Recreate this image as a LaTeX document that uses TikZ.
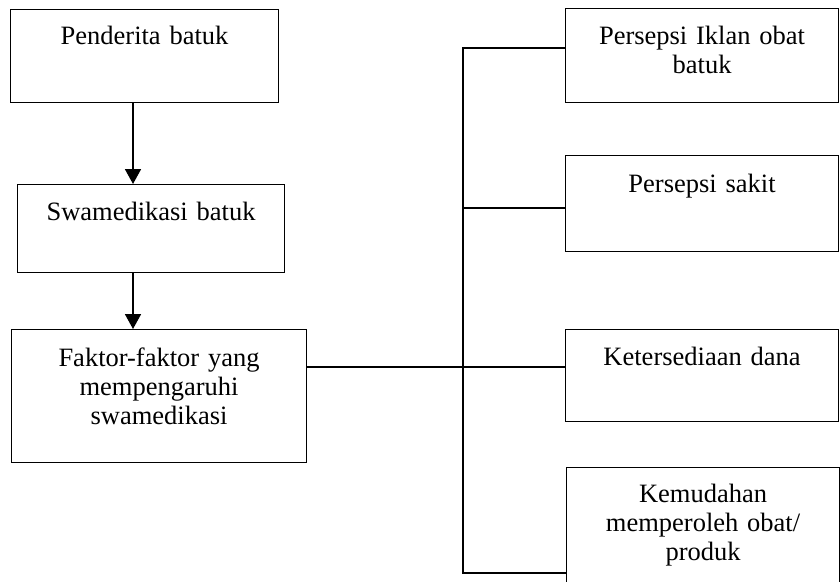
\documentclass[tikz,border=0pt]{standalone}
\usepackage{fontspec}
\setmainfont{Liberation Serif}
\usepackage{tikz}
\usetikzlibrary{positioning,arrows.meta}
\tikzstyle{box} = [rectangle, anchor=north west, inner sep=0pt, align=center, draw=black, line width=1.1pt, font=\fontsize{26.5}{29}\selectfont]
\tikzstyle{line} = [line width=1.4pt]
\tikzstyle{arrow} = [line width=1.8pt,-{Triangle[width=16pt,length=15pt]}]

\begin{document}
\begin{tikzpicture}[x=1pt,y=-1pt]
\useasboundingbox (0,0) rectangle (840,581);
% left column
\node (pend) [box, text width=268pt, text height=35pt, text depth=58pt] at (10,9) {Penderita batuk};
\node (swam) [box, text width=267pt, text height=36pt, text depth=52pt] at (17,184) {Swamedikasi batuk};
\node (fakt) [box, text width=295pt, text height=37pt, text depth=96pt] at (11,329) {Faktor-faktor yang\\mempengaruhi\\swamedikasi};
% right column
\node (iklan) [box, text width=273pt, text height=36pt, text depth=58pt] at (565,8) {Persepsi Iklan obat\\batuk};
\node (sakit) [box, text width=273pt, text height=37pt, text depth=59pt] at (565,155) {Persepsi sakit};
\node (dana) [box, text width=273pt, text height=36pt, text depth=56pt] at (565,329) {Ketersediaan dana};
\node (mudah) [box, text width=273pt, text height=35pt, text depth=95pt] at (566,467) {Kemudahan\\memperoleh obat/\\produk};

\coordinate (ax) at (133,0);
\coordinate (bt) at (463,48);
\coordinate (bm) at (463,208);
\coordinate (bj) at (463,367);
\coordinate (bb) at (463,573);

\draw [arrow] (pend.south -| ax) -- (swam.north -| ax);
\draw [arrow] (swam.south -| ax) -- (fakt.north -| ax);

\draw [line] (iklan.west |- bt) -- (bt) -- (bb) -- (mudah.west |- bb);
\draw [line] (bm) -- (sakit.west |- bm);
\draw [line] (fakt.east |- bj) -- (dana.west |- bj);
\end{tikzpicture}
\end{document}
